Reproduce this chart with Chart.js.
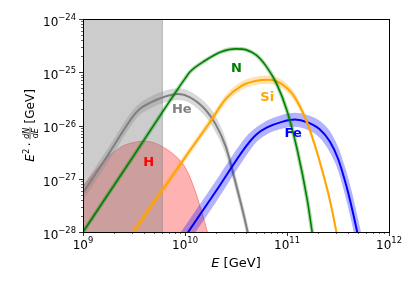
<!DOCTYPE html>
<html>
<head>
<meta charset="utf-8">
<script src="https://cdn.jsdelivr.net/npm/chart.js@4/dist/chart.umd.min.js"></script>
<style>
body { margin: 0; background: #fff; }
#wrap { width: 415px; height: 291px; }
</style>
</head>
<body>
<div id="wrap"><canvas id="chart" width="415" height="291"></canvas></div>
<script>
const xTicks = [1e9, 1e10, 1e11, 1e12];
const yTicks = [1e-28, 1e-27, 1e-26, 1e-25, 1e-24];
const shadedRange = [1e9, 6e9];

// H: only an upper curve, filled down to the axis
const energyH = [1e9, 1.26e9, 1.58e9, 2.0e9, 2.51e9, 3.16e9, 3.98e9, 5.01e9, 6.31e9, 7.94e9, 1e10, 1.2e10, 1.45e10, 1.66e10, 1.82e10];
const fluxH = [7.1e-28, 1.26e-27, 2.1e-27, 3.16e-27, 4.2e-27, 4.8e-27, 5.1e-27, 4.7e-27, 3.8e-27, 2.75e-27, 1.66e-27, 7.6e-28, 2.5e-28, 1.0e-28, 5.0e-29];

const energyHe = [1e9, 1.78e9, 3.09e9, 3.55e9, 4.47e9, 6.31e9, 8.51e9, 1.12e10, 1.58e10, 2.0e10, 2.51e10, 3.16e10, 3.72e10, 4.17e10, 4.57e10];
const fluxHe = [5.4e-28, 2.9e-27, 1.48e-26, 2.0e-26, 2.63e-26, 3.47e-26, 3.9e-26, 3.39e-26, 2.0e-26, 1.05e-26, 4.0e-27, 7.9e-28, 2.3e-28, 8.9e-29, 4.0e-29];
const fluxHeHigh = [7.4e-28, 3.9e-27, 1.95e-26, 2.57e-26, 3.39e-26, 4.47e-26, 5.0e-26, 4.37e-26, 2.7e-26, 1.48e-26, 5.6e-27, 1.12e-27, 3.2e-28, 1.26e-28, 5.6e-29];
const fluxHeLow = [3.9e-28, 2.14e-27, 1.12e-26, 1.55e-26, 2.04e-26, 2.69e-26, 3.0e-26, 2.63e-26, 1.48e-26, 7.4e-27, 2.8e-27, 5.6e-28, 1.62e-28, 6.3e-29, 2.8e-29];

const energyN = [1e9, 3.16e9, 1e10, 1.12e10, 1.58e10, 2.24e10, 3.16e10, 3.98e10, 5.01e10, 6.31e10, 7.94e10, 1e11, 1.26e11, 1.58e11, 1.78e11];
const fluxN = [1.0e-28, 2.75e-27, 7.6e-26, 1.02e-25, 1.66e-25, 2.4e-25, 2.75e-25, 2.63e-25, 2.09e-25, 1.26e-25, 6.0e-26, 1.9e-26, 3.5e-27, 4.0e-28, 8.9e-29];

const energySi = [2.51e9, 3.16e9, 1e10, 1.78e10, 2.51e10, 3.55e10, 5.01e10, 6.61e10, 8.91e10, 1.12e11, 1.32e11, 1.58e11, 1.86e11, 2.24e11, 2.63e11, 3.09e11, 3.39e11];
const fluxSi = [5.6e-29, 1.05e-28, 2.5e-27, 1.2e-26, 3.16e-26, 5.5e-26, 6.9e-26, 7.2e-26, 6.0e-26, 4.0e-26, 2.4e-26, 1.12e-26, 4.5e-27, 1.32e-27, 4.0e-28, 8.9e-29, 3.5e-29];
const fluxSiHigh = [6.8e-29, 1.26e-28, 3.0e-27, 1.45e-26, 3.8e-26, 6.6e-26, 8.3e-26, 8.7e-26, 7.2e-26, 4.8e-26, 2.9e-26, 1.35e-26, 5.4e-27, 1.58e-27, 4.8e-28, 1.07e-28, 4.3e-29];
const fluxSiLow = [4.6e-29, 8.7e-29, 2.1e-27, 1.0e-26, 2.63e-26, 4.6e-26, 5.8e-26, 6.0e-26, 5.0e-26, 3.3e-26, 2.0e-26, 9.3e-27, 3.7e-27, 1.1e-27, 3.3e-28, 7.4e-29, 3.0e-29];

const energyFe = [8.91e9, 2.0e10, 3.98e10, 5.01e10, 6.31e10, 8.91e10, 1.2e11, 1.58e11, 2.09e11, 2.63e11, 3.16e11, 3.8e11, 4.37e11, 5.01e11, 5.75e11];
const fluxFe = [5.9e-29, 5.75e-28, 4.1e-27, 6.8e-27, 9.1e-27, 1.17e-26, 1.29e-26, 1.15e-26, 8.5e-27, 5.0e-27, 2.4e-27, 7.6e-28, 2.6e-28, 7.9e-29, 2.2e-29];
const fluxFeHigh = [9.3e-29, 9.1e-28, 6.2e-27, 9.3e-27, 1.23e-26, 1.58e-26, 1.74e-26, 1.58e-26, 1.23e-26, 7.9e-27, 4.0e-27, 1.41e-27, 5.2e-28, 1.66e-28, 5.0e-29];
const fluxFeLow = [3.7e-29, 3.6e-28, 2.7e-27, 4.9e-27, 6.8e-27, 8.7e-27, 9.5e-27, 8.3e-27, 5.9e-27, 3.16e-27, 1.45e-27, 4.1e-28, 1.32e-28, 4.0e-29, 1.0e-29];

const labelNames = ['N', 'Si', 'He', 'Fe', 'H'];
const labelEnergy = [3.2e10, 6.4e10, 9.3e9, 1.15e11, 4.4e9];
const labelFlux = [1.15e-25, 3.3e-26, 2.0e-26, 6.9e-27, 2.0e-27];
const labelColors = ['#008000', '#ffa500', '#808080', '#0000ff', '#ff0000'];

Chart.defaults.font.family = '"DejaVu Sans"';
Chart.defaults.color = '#000';

function pts(xs, ys) {
    return xs.map((x, i) => ({ x: x, y: ys[i] }));
}

function exponent(v) {
    return String(Math.round(Math.log10(v))).replace('-', '\u2212');
}

function line(data, color, width, order, fill) {
    return {
        data: data,
        borderColor: color,
        backgroundColor: color,
        borderWidth: width,
        pointRadius: 0,
        cubicInterpolationMode: 'monotone',
        fill: fill || false,
        order: order
    };
}

const datasets = [
    Object.assign(line(pts(energyH, fluxH), 'rgba(255,0,0,0.35)', 1, 20, 'start'), { backgroundColor: 'rgba(255,0,0,0.3)' }),
    line(pts(energyHe, fluxHeLow), 'rgba(0,0,0,0)', 0, 19),
    Object.assign(line(pts(energyHe, fluxHeHigh), 'rgba(0,0,0,0)', 0, 19, '-1'), { backgroundColor: 'rgba(128,128,128,0.3)' }),
    line(pts(energyHe, fluxHe), '#808080', 2, 18),
    line(pts(energyFe, fluxFeLow), 'rgba(0,0,0,0)', 0, 17),
    Object.assign(line(pts(energyFe, fluxFeHigh), 'rgba(0,0,0,0)', 0, 17, '-1'), { backgroundColor: 'rgba(0,0,255,0.3)' }),
    line(pts(energyFe, fluxFe), '#0000ff', 2, 16),
    line(pts(energySi, fluxSiLow), 'rgba(0,0,0,0)', 0, 15),
    Object.assign(line(pts(energySi, fluxSiHigh), 'rgba(0,0,0,0)', 0, 15, '-1'), { backgroundColor: 'rgba(255,165,0,0.3)' }),
    line(pts(energySi, fluxSi), '#ffa500', 2, 14),
    line(pts(energyN, fluxN), 'rgba(0,128,0,0.3)', 4, 13),
    line(pts(energyN, fluxN), '#008000', 1.6, 12)
];

const shadePlugin = {
    id: 'shade',
    afterDatasetDraw(chart, args) {
        if (args.index !== 0) return;
        const ctx = chart.ctx, a = chart.chartArea, xs = chart.scales.x;
        const x0 = xs.getPixelForValue(shadedRange[0]);
        const x1 = xs.getPixelForValue(shadedRange[1]);
        ctx.save();
        ctx.fillStyle = 'rgba(128,128,128,0.4)';
        ctx.fillRect(x0, a.top, x1 - x0, a.bottom - a.top);
        ctx.strokeStyle = 'rgba(128,128,128,0.5)';
        ctx.lineWidth = 1;
        ctx.beginPath();
        ctx.moveTo(x1, a.top);
        ctx.lineTo(x1, a.bottom);
        ctx.stroke();
        ctx.restore();
    }
};

// "10" with a raised exponent, like matplotlib's log labels
function powText(ctx, v, x, y, align) {
    const main = '12px "DejaVu Sans"', sup = '8.4px "DejaVu Sans"';
    const e = exponent(v);
    ctx.font = main; const w1 = ctx.measureText('10').width;
    ctx.font = sup; const w2 = ctx.measureText(e).width;
    let x0 = align === 'right' ? x - w1 - w2 : x - (w1 + w2) / 2;
    ctx.textAlign = 'left';
    ctx.font = main; ctx.fillText('10', x0, y);
    ctx.font = sup; ctx.fillText(e, x0 + w1, y - 5.6);
}

const decorPlugin = {
    id: 'decor',
    afterDatasetsDraw(chart) {
        const ctx = chart.ctx, xs = chart.scales.x, ys = chart.scales.y;
        ctx.save();
        ctx.font = 'bold 13px "DejaVu Sans"';
        ctx.textAlign = 'center';
        ctx.textBaseline = 'middle';
        labelNames.forEach((t, i) => {
            ctx.fillStyle = labelColors[i];
            ctx.fillText(t, xs.getPixelForValue(labelEnergy[i]), ys.getPixelForValue(labelFlux[i]));
        });
        ctx.restore();
    },
    afterDraw(chart) {
        const ctx = chart.ctx, a = chart.chartArea, xs = chart.scales.x, ys = chart.scales.y;
        ctx.save();
        ctx.strokeStyle = '#000';
        ctx.fillStyle = '#000';
        ctx.textBaseline = 'alphabetic';

        // ticks, major and minor, pointing out
        ctx.lineWidth = 0.8;
        xTicks.forEach(v => {
            const p = Math.round(xs.getPixelForValue(v)) + 0.5;
            ctx.beginPath(); ctx.moveTo(p, a.bottom); ctx.lineTo(p, a.bottom + 4); ctx.stroke();
            powText(ctx, v, xs.getPixelForValue(v), a.bottom + 17, 'center');
        });
        yTicks.forEach(v => {
            const p = Math.round(ys.getPixelForValue(v)) + 0.5;
            ctx.beginPath(); ctx.moveTo(a.left, p); ctx.lineTo(a.left - 4, p); ctx.stroke();
            powText(ctx, v, a.left - 7, ys.getPixelForValue(v) + 6.8, 'right');
        });
        ctx.lineWidth = 0.6;
        for (let d = 9; d < 12; d++) {
            for (let k = 2; k < 10; k++) {
                const p = Math.round(xs.getPixelForValue(k * Math.pow(10, d))) + 0.5;
                ctx.beginPath(); ctx.moveTo(p, a.bottom); ctx.lineTo(p, a.bottom + 2); ctx.stroke();
            }
        }
        for (let d = -28; d < -24; d++) {
            for (let k = 2; k < 10; k++) {
                const p = Math.round(ys.getPixelForValue(k * Math.pow(10, d))) + 0.5;
                ctx.beginPath(); ctx.moveTo(a.left, p); ctx.lineTo(a.left - 2, p); ctx.stroke();
            }
        }

        ctx.lineWidth = 1;
        ctx.strokeRect(Math.round(a.left) + 0.5, Math.round(a.top) + 0.5, Math.round(a.right - a.left), Math.round(a.bottom - a.top));

        // x title
        ctx.textAlign = 'left';
        const fIt = 'italic 13px "DejaVu Sans"', fRm = '13px "DejaVu Sans"';
        ctx.font = fIt;
        const wE = ctx.measureText('E').width;
        ctx.font = fRm;
        const wRest = ctx.measureText(' [GeV]').width;
        let x = (a.left + a.right) / 2 - (wE + wRest) / 2;
        const by = a.bottom + 35;
        ctx.font = fIt; ctx.fillText('E', x, by);
        ctx.font = fRm; ctx.fillText(' [GeV]', x + wE, by);

        // y title: E^2 · dN/dE [GeV], rotated
        ctx.translate(a.left - 53, (a.top + a.bottom) / 2);
        ctx.rotate(-Math.PI / 2);
        const big = '12px "DejaVu Sans"', bigIt = 'italic 12px "DejaVu Sans"';
        const sm = '8px "DejaVu Sans"', smIt = 'italic 8px "DejaVu Sans"';
        const b = 4;
        ctx.font = bigIt; const w1 = ctx.measureText('E').width;
        ctx.font = sm; const w2 = ctx.measureText('2').width;
        ctx.font = big; const w3 = ctx.measureText('·').width;
        ctx.font = smIt; const w4 = Math.max(ctx.measureText('dN').width, ctx.measureText('dE').width) + 1;
        ctx.font = big; const w5 = ctx.measureText(' [GeV]').width;
        const gap = 3;
        const total = w1 + w2 + gap + w3 + gap + w4 + w5;
        let u = -total / 2;
        ctx.font = bigIt; ctx.fillText('E', u, b); u += w1 + 0.5;
        ctx.font = sm; ctx.fillText('2', u, b - 5); u += w2 + gap - 0.5;
        ctx.font = big; ctx.fillText('·', u, b); u += w3 + gap;
        ctx.font = smIt;
        ctx.textAlign = 'center';
        ctx.fillText('dN', u + w4 / 2, b - 5.5);
        ctx.fillText('dE', u + w4 / 2, b + 3.5);
        ctx.lineWidth = 0.7;
        ctx.beginPath(); ctx.moveTo(u, b - 4); ctx.lineTo(u + w4, b - 4); ctx.stroke();
        u += w4;
        ctx.textAlign = 'left';
        ctx.font = big; ctx.fillText(' [GeV]', u, b);
        ctx.restore();
    }
};

const config = {
    type: 'line',
    data: { datasets: datasets },
    options: {
        responsive: false,
        animation: false,
        layout: { padding: { left: 0, top: 19, right: 26, bottom: 0 } },
        plugins: {
            legend: { display: false },
            tooltip: { enabled: false }
        },
        scales: {
            x: {
                type: 'logarithmic',
                min: 1e9,
                max: 1e12,
                afterBuildTicks: s => { s.ticks = xTicks.map(v => ({ value: v })); },
                afterFit: s => { s.height = 59; },
                grid: { display: false },
                border: { display: false },
                ticks: { display: false }
            },
            y: {
                type: 'logarithmic',
                min: 1e-28,
                max: 1e-24,
                afterBuildTicks: s => { s.ticks = yTicks.map(v => ({ value: v })); },
                afterFit: s => { s.width = 83; },
                grid: { display: false },
                border: { display: false },
                ticks: { display: false }
            }
        }
    },
    plugins: [shadePlugin, decorPlugin]
};

const chart = new Chart(document.getElementById('chart'), config);
</script>
</body>
</html>
